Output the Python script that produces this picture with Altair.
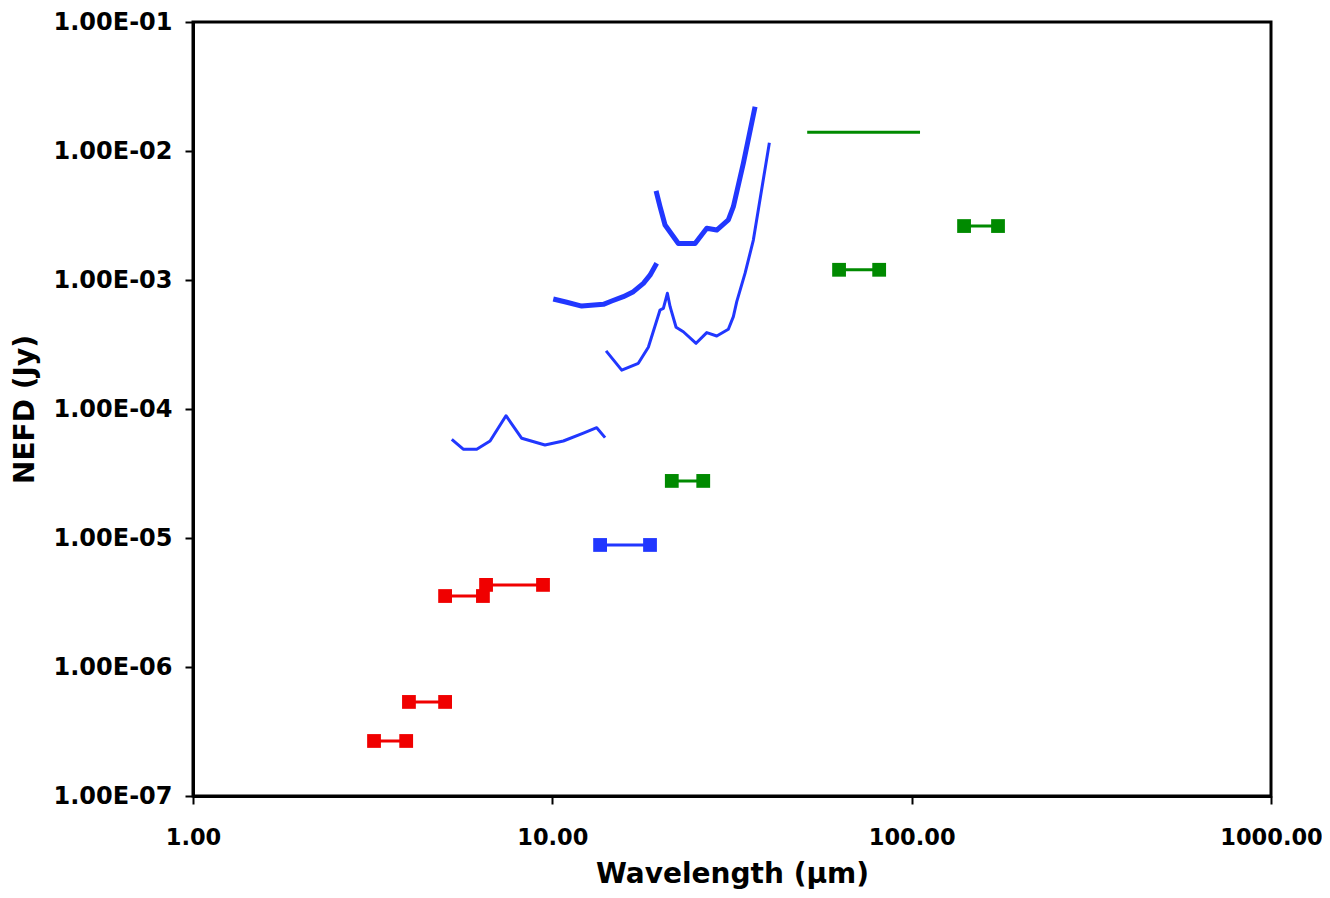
import altair as alt
import pandas as pd

RED = "#f00000"
BLUE = "#2137ff"
GREEN = "#008a00"

# Band segments (horizontal bars with square end markers)
seg_x1 = [3.19, 3.99, 5.03, 6.54, 13.58, 21.5, 62.8, 139.9]
seg_x2 = [3.92, 5.03, 6.41, 9.42, 18.7, 26.3, 81.2, 173.9]
seg_y = [2.67e-7, 5.36e-7, 3.55e-6, 4.33e-6, 8.83e-6, 2.77e-5, 1.20e-3, 2.62e-3]
seg_color = [RED, RED, RED, RED, BLUE, GREEN, GREEN, GREEN]

# Green band without markers
gline_x1 = [51.2]
gline_x2 = [105.5]
gline_y = [1.40e-2]

# Blue sensitivity curves
cA_x = [5.25, 5.65, 6.16, 6.71, 7.43, 8.22, 9.54, 10.73, 12.20, 13.29, 14.02]
cA_y = [5.82e-5, 4.88e-5, 4.88e-5, 5.65e-5, 8.87e-5, 5.93e-5, 5.26e-5, 5.65e-5, 6.49e-5, 7.16e-5, 6.0e-5]

cB_x = [14.11, 15.60, 17.35, 18.50, 19.94, 20.37, 20.90, 21.27, 22.10, 23.15, 25.12,
        26.90, 28.68, 30.89, 31.90, 32.60, 34.39, 36.26, 40.18]
cB_y = [2.82e-4, 2.00e-4, 2.26e-4, 3.01e-4, 5.85e-4, 6.03e-4, 7.89e-4, 6.21e-4, 4.30e-4, 3.97e-4, 3.23e-4,
        3.91e-4, 3.68e-4, 4.15e-4, 5.20e-4, 6.79e-4, 1.13e-3, 2.04e-3, 1.16e-2]

cC_x = [10.06, 10.97, 12.07, 13.87, 14.63, 15.76, 16.81, 17.92, 18.70, 19.52]
cC_y = [7.13e-4, 6.72e-4, 6.28e-4, 6.48e-4, 6.87e-4, 7.42e-4, 8.12e-4, 9.42e-4, 1.09e-3, 1.35e-3]

cD_x = [19.44, 19.94, 20.59, 22.42, 24.96, 26.90, 28.68, 30.89, 31.90, 34.01, 36.66]
cD_y = [4.90e-3, 3.70e-3, 2.67e-3, 1.92e-3, 1.92e-3, 2.52e-3, 2.44e-3, 2.92e-3, 3.70e-3, 8.03e-3, 2.20e-2]

curve_widths = {"A": 3, "B": 3, "C": 5, "D": 5}

# ---- build tables ----
seg_df = pd.DataFrame({"x1": seg_x1, "x2": seg_x2, "y": seg_y, "c": seg_color})
pts_df = pd.concat([
    pd.DataFrame({"x": seg_x1, "y": seg_y, "c": seg_color}),
    pd.DataFrame({"x": seg_x2, "y": seg_y, "c": seg_color}),
])
gl_df = pd.DataFrame({"x1": gline_x1, "x2": gline_x2, "y": gline_y})

rows = []
for name, xs, ys in [("A", cA_x, cA_y), ("B", cB_x, cB_y), ("C", cC_x, cC_y), ("D", cD_x, cD_y)]:
    for i, (xv, yv) in enumerate(zip(xs, ys)):
        rows.append({"curve": name, "i": i, "x": xv, "y": yv, "w": curve_widths[name]})
curve_df = pd.DataFrame(rows)

FONT = "DejaVu Sans"

xscale = alt.Scale(type="log", domain=[1, 1000], nice=False)
yscale = alt.Scale(type="log", domain=[1e-7, 1e-1], nice=False)

xaxis = alt.Axis(
    title="Wavelength (µm)", values=[1, 10, 100, 1000], format=".2f",
    grid=False, domainColor="black", domainWidth=3, tickColor="black", tickWidth=2,
    tickSize=8, labelFont=FONT, labelFontSize=22.5, labelFontWeight="bold", labelColor="black",
    labelPadding=22, labelFlush=False,
    titleFont=FONT, titleFontSize=28, titleFontWeight="bold", titleColor="black",
    titleX=539, titleY=86, titleBaseline="alphabetic",
)
yaxis = alt.Axis(
    title="NEFD (Jy)", values=[1e-7, 1e-6, 1e-5, 1e-4, 1e-3, 1e-2, 1e-1],
    labelExpr="'1.00E-0' + round(-log(datum.value)/log(10))",
    grid=False, domainColor="black", domainWidth=3, tickColor="black", tickWidth=2,
    tickSize=8, labelFont=FONT, labelFontSize=24, labelFontWeight="bold", labelColor="black",
    labelPadding=13, labelFlush=False,
    titleFont=FONT, titleFontSize=28, titleFontWeight="bold", titleColor="black",
    titleX=-168, titleY=387, titleAngle=-90, titleAlign="center", titleBaseline="middle",
)

base_x = alt.X("x1:Q", scale=xscale, axis=xaxis)
base_y = alt.Y("y:Q", scale=yscale, axis=yaxis)

seg_rules = alt.Chart(seg_df).mark_rule(strokeWidth=3).encode(
    x=base_x, x2="x2:Q", y=base_y, color=alt.Color("c:N", scale=None)
)
seg_pts = alt.Chart(pts_df).mark_square(size=190, opacity=1, filled=True).encode(
    x=alt.X("x:Q", scale=xscale), y=alt.Y("y:Q", scale=yscale),
    color=alt.Color("c:N", scale=None)
)
green_line = alt.Chart(gl_df).mark_rule(strokeWidth=3, color=GREEN).encode(
    x=alt.X("x1:Q", scale=xscale), x2="x2:Q", y=alt.Y("y:Q", scale=yscale)
)
curves = alt.Chart(curve_df).mark_line(color=BLUE, strokeJoin="round", strokeCap="butt").encode(
    x=alt.X("x:Q", scale=xscale), y=alt.Y("y:Q", scale=yscale),
    detail="curve:N", order="i:Q",
    strokeWidth=alt.StrokeWidth("w:Q", scale=None),
)

chart = alt.layer(seg_rules, green_line, curves, seg_pts).properties(
    width=1078, height=774,
    autosize=alt.AutoSizeParams(type="none"),
    padding={"left": 185, "top": 14, "right": 51, "bottom": 94},
    background="white",
).configure_view(stroke="black", strokeWidth=3)

chart.save("out.html", embed_options={"renderer": "svg", "actions": False})
